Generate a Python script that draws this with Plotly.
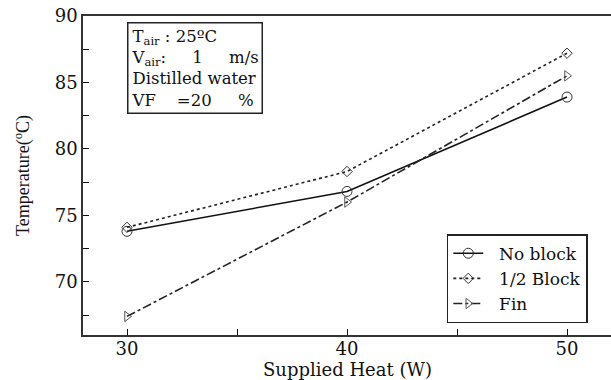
import plotly.graph_objects as go

heat = [30, 40, 50]
no_block = [73.8, 76.8, 83.9]
half_block = [74.1, 78.3, 87.2]
fin = [67.4, 76.0, 85.5]

FONT = "DejaVu Serif, serif"
TFONT = "Liberation Serif, Times New Roman, serif"
NB = "\u00a0"

fig = go.Figure()
fig.add_trace(go.Scatter(x=heat, y=no_block, name=NB * 2 + "No block", mode="lines+markers",
                         line=dict(color="#111", width=1.6, dash="solid"),
                         marker=dict(symbol="circle-open", size=10, color="#333", line=dict(width=1))))
fig.add_trace(go.Scatter(x=heat, y=half_block, name=NB * 2 + "1/2 Block", mode="lines+markers",
                         line=dict(color="#222", width=1.6, dash="dot"),
                         marker=dict(symbol="diamond-open", size=8, color="#333", line=dict(width=1))))
fig.add_trace(go.Scatter(x=heat, y=fin, name=NB * 2 + "Fin", mode="lines+markers",
                         line=dict(color="#222", width=1.6, dash="dashdot"),
                         marker=dict(symbol="triangle-right-open", size=9, color="#555", line=dict(width=1))))

fig.update_layout(
    width=611, height=380,
    margin=dict(l=83, r=0, t=16, b=45),
    paper_bgcolor="white", plot_bgcolor="white",
    font=dict(family=FONT, color="#111", size=18),
    showlegend=True,
    legend=dict(x=0.689, y=0.037, xanchor="left", yanchor="bottom",
                bgcolor="white", bordercolor="#222", borderwidth=1.5,
                font=dict(size=17, family=FONT), tracegroupgap=0),
    xaxis=dict(range=[28, 52], tickvals=[30, 40, 50], ticks="inside", ticklen=6,
               tickcolor="#111", showline=True, linecolor="#333", linewidth=1.5,
               mirror=True, showgrid=False, zeroline=False, ticklabelstandoff=-3,
               minor=dict(tickvals=[35, 45], ticks="inside", ticklen=6, tickcolor="#111"),
               tickfont=dict(size=18)),
    yaxis=dict(range=[66, 90], tickvals=[70, 75, 80, 85, 90], ticks="inside", ticklen=6,
               tickcolor="#111", showline=True, linecolor="#333", linewidth=1.5,
               mirror=False, showgrid=False, zeroline=False,
               minor=dict(tickvals=[67.5, 72.5, 77.5, 82.5, 87.5], ticks="inside", ticklen=6, tickcolor="#111"),
               title=dict(text="Temperature(<sup>o</sup>C)", standoff=20, font=dict(size=18, family=TFONT, color="#111")),
               tickfont=dict(size=18)),
)

fig.add_annotation(
    xref="paper", yref="paper", x=0.5, y=-0.108, xanchor="center", yanchor="middle",
    showarrow=False, text="Supplied Heat (W)", font=dict(family=FONT, size=18, color="#111"),
)

fig.add_annotation(
    xref="paper", yref="paper", x=0.083, y=0.981, xanchor="left", yanchor="top",
    align="left", showarrow=False, bordercolor="#222", borderwidth=1.5, borderpad=3,
    bgcolor="white", font=dict(family=FONT, size=16.5, color="#111"),
    text=("T<sub>air</sub> : 25ºC<br>"
          f"V<sub>air</sub>:{NB*5}1{NB*5}m/s<br>"
          "Distilled water<br>"
          f"VF{NB*4}=20{NB*5}%"),
)

fig.write_html("out.html")
